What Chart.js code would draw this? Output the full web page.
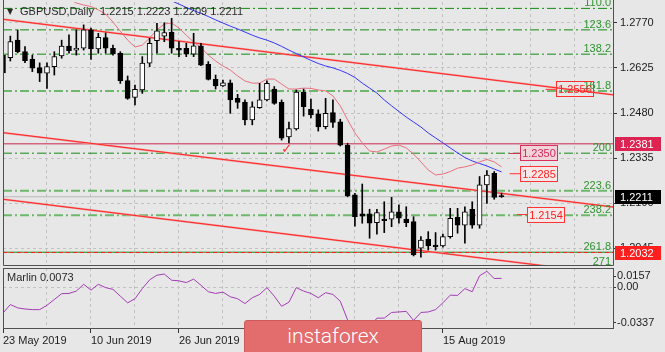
<!DOCTYPE html>
<html lang="en">
<head>
<meta charset="utf-8">
<title>GBPUSD Daily</title>
<script src="https://cdn.jsdelivr.net/npm/chart.js@4.4.1/dist/chart.umd.min.js"></script>
<style>
    html, body { margin: 0; padding: 0; background: #e7e7e7; }
    #wrap { position: relative; width: 665px; height: 352px; overflow: hidden; background: #e7e7e7; }
    #price-chart { position: absolute; left: 0; top: 0; }
    #marlin-chart { position: absolute; left: 0; top: 266px; }
    #logo { position: absolute; left: 244px; top: 320px; width: 178px; height: 40px; box-sizing: border-box;
            background: #e36c6c; border: 1px solid #cd5a5a; border-radius: 3px; color: #fff;
            font: 300 21px Roboto, "Open Sans", sans-serif; text-align: center; line-height: 30px; }
</style>
</head>
<body>
<div id="wrap">
    <canvas id="price-chart" width="665" height="268"></canvas>
    <canvas id="marlin-chart" width="665" height="86"></canvas>
    <div id="logo">instaforex</div>
</div>
<script>
// Daily candles, 23 May 2019 .. 27 Aug 2019
var barOpen = [
    1.2666, 1.2658, 1.2714, 1.2677, 1.2652, 1.2626, 1.2608, 1.2629, 1.2663, 1.2695,
    1.2682, 1.2688, 1.2747, 1.2686, 1.2722, 1.2688, 1.2672, 1.2584, 1.2530, 1.2554,
    1.2640, 1.2712, 1.2727, 1.2739, 1.2688, 1.2688, 1.2669, 1.2696, 1.2636, 1.2588,
    1.2567, 1.2577, 1.2527, 1.2514, 1.2458, 1.2497, 1.2522, 1.2557, 1.2514, 1.2403,
    1.2429, 1.2547, 1.2492, 1.2477, 1.2436, 1.2481, 1.2452, 1.2377, 1.2217, 1.2156,
    1.2156, 1.2128, 1.2139, 1.2139, 1.2163, 1.2139, 1.2131, 1.2046, 1.2074, 1.2056,
    1.2053, 1.2083, 1.2145, 1.2120, 1.2171, 1.2120, 1.2249, 1.2286, 1.2215
];
var barHigh = [
    1.2682, 1.2727, 1.2747, 1.2693, 1.2666, 1.2641, 1.2641, 1.2677, 1.2714, 1.2731,
    1.2747, 1.2763, 1.2753, 1.2736, 1.2737, 1.2698, 1.2677, 1.2599, 1.2570, 1.2661,
    1.2720, 1.2768, 1.2770, 1.2784, 1.2709, 1.2704, 1.2736, 1.2704, 1.2645, 1.2602,
    1.2586, 1.2586, 1.2540, 1.2522, 1.2516, 1.2575, 1.2583, 1.2565, 1.2522, 1.2451,
    1.2554, 1.2557, 1.2525, 1.2490, 1.2527, 1.2522, 1.2460, 1.2383, 1.2222, 1.2252,
    1.2171, 1.2171, 1.2195, 1.2209, 1.2185, 1.2179, 1.2147, 1.2083, 1.2099, 1.2096,
    1.2091, 1.2174, 1.2174, 1.2179, 1.2195, 1.2276, 1.2295, 1.2292, 1.2223
];
var barLow = [
    1.2592, 1.2647, 1.2673, 1.2642, 1.2613, 1.2581, 1.2559, 1.2602, 1.2656, 1.2672,
    1.2666, 1.2682, 1.2652, 1.2672, 1.2672, 1.2666, 1.2575, 1.2524, 1.2506, 1.2543,
    1.2629, 1.2672, 1.2709, 1.2672, 1.2661, 1.2661, 1.2661, 1.2632, 1.2586, 1.2557,
    1.2565, 1.2479, 1.2495, 1.2442, 1.2442, 1.2495, 1.2519, 1.2508, 1.2393, 1.2384,
    1.2425, 1.2470, 1.2464, 1.2422, 1.2429, 1.2434, 1.2374, 1.2211, 1.2117, 1.2126,
    1.2078, 1.2091, 1.2096, 1.2115, 1.2126, 1.2115, 1.2021, 1.2017, 1.2040, 1.2040,
    1.2049, 1.2078, 1.2094, 1.2062, 1.2110, 1.2110, 1.2190, 1.2203, 1.2209
];
var barClose = [
    1.2609, 1.2709, 1.2677, 1.2648, 1.2624, 1.2608, 1.2629, 1.2661, 1.2695, 1.2680,
    1.2688, 1.2747, 1.2686, 1.2723, 1.2688, 1.2670, 1.2584, 1.2527, 1.2556, 1.2640,
    1.2704, 1.2744, 1.2738, 1.2688, 1.2682, 1.2669, 1.2696, 1.2634, 1.2588, 1.2567,
    1.2577, 1.2522, 1.2514, 1.2458, 1.2500, 1.2522, 1.2575, 1.2511, 1.2399, 1.2430,
    1.2547, 1.2500, 1.2474, 1.2435, 1.2479, 1.2450, 1.2377, 1.2214, 1.2147, 1.2149,
    1.2126, 1.2160, 1.2134, 1.2163, 1.2142, 1.2128, 1.2024, 1.2072, 1.2053, 1.2051,
    1.2083, 1.2142, 1.2120, 1.2163, 1.2120, 1.2249, 1.2281, 1.2209, 1.2211
];

// fast (pink) and slow (blue) moving averages, null where off the chart
var pinkMa = [
    null, null, null, null, null, null, null, null, null, 1.2848,
    1.2833, 1.2827, 1.2822, 1.2811, 1.2798, 1.2772, 1.2743, 1.2714, 1.2692, 1.2698,
    1.2721, 1.2747, 1.2766, 1.2769, 1.2753, 1.2730, 1.2708, 1.2690, 1.2666, 1.2647,
    1.2631, 1.2618, 1.2599, 1.2583, 1.2576, 1.2576, 1.2589, 1.2589, 1.2573, 1.2557,
    1.2557, 1.2560, 1.2559, 1.2554, 1.2551, 1.2535, 1.2503, 1.2458, 1.2416, 1.2384,
    1.2358, 1.2355, 1.2364, 1.2374, 1.2377, 1.2368, 1.2348, 1.2323, 1.2297, 1.2281,
    1.2284, 1.2292, 1.2303, 1.2307, 1.2313, 1.2323, 1.2331, 1.2323, 1.2307
];
var blueMa = [
    null, null, null, null, null, null, null, null, null, null,
    null, null, null, null, null, null, null, null, null, null,
    null, null, 1.2849, 1.2840, 1.2830, 1.2819, 1.2809, 1.2800, 1.2790, 1.2779,
    1.2769, 1.2759, 1.2750, 1.2740, 1.2730, 1.2721, 1.2714, 1.2705, 1.2694, 1.2682,
    1.2671, 1.2660, 1.2649, 1.2639, 1.2631, 1.2625, 1.2617, 1.2607, 1.2594, 1.2576,
    1.2560, 1.2544, 1.2522, 1.2503, 1.2485, 1.2467, 1.2451, 1.2435, 1.2416, 1.2400,
    1.2384, 1.2368, 1.2352, 1.2337, 1.2326, 1.2318, 1.2310, 1.2300, 1.2291
];

// Marlin oscillator (lower window)
var marlin = [
    -0.0208, -0.0139, -0.0166, -0.0175, -0.0180, -0.0180, -0.0145, -0.0098, -0.0051, -0.0049,
    -0.0030, 0.0025, -0.0022, 0.0025, -0.0002, -0.0016, -0.0071, -0.0125, -0.0092, -0.0010,
    0.0061, 0.0099, 0.0108, 0.0058, 0.0053, 0.0039, 0.0067, 0.0017, -0.0035, -0.0049,
    -0.0038, -0.0076, -0.0092, -0.0131, -0.0084, -0.0057, -0.0002, -0.0071, -0.0153, -0.0120,
    -0.0002, -0.0030, -0.0049, -0.0084, -0.0043, -0.0057, -0.0112, -0.0263, -0.0330, -0.0337,
    -0.0325, -0.0249, -0.0249, -0.0203, -0.0199, -0.0194, -0.0268, -0.0203, -0.0199, -0.0180,
    -0.0125, -0.0063, -0.0065, -0.0010, -0.0035, 0.0094, 0.0130, 0.0072, 0.0073
];

// axis ticks
var priceTicks = [1.2045, 1.2190, 1.2335, 1.2480, 1.2625, 1.2770];
var dateTicks = [0, 12, 24, 36, 48, 60];
var dateLabels = ['23 May 2019', '10 Jun 2019', '26 Jun 2019', '12 Jul 2019', '30 Jul 2019', '15 Aug 2019'];
var marlinTickValues = [0.0092, 0, -0.0286];
var marlinTickLabels = ['0.0157', '0.00', '-0.0337'];

// fibo expansion levels
var fibNames = ['110.0', '123.6', '138.2', '161.8', '200', '223.6', '238.2', '261.8', '271'];
var fibPrices = [1.2816, 1.2747, 1.2669, 1.2551, 1.2351, 1.2230, 1.2152, 1.2033, 1.1985];

// trend lines: price at bar 0 and at bar 84
var trendStart = [1.2781, 1.2417, 1.2203];
var trendEnd = [1.2536, 1.2176, 1.1960];

// horizontal levels and price tags
var levelPrices = [1.2381, 1.2211, 1.2032];
var tagPrices = [1.2556, 1.2350, 1.2285, 1.2154];
var checkPrice = 1.2361;
var headerText = 'GBPUSD,Daily  1.2215 1.2223 1.2209 1.2211';
var marlinText = 'Marlin 0.0073';
</script>
<script>
(function() {
    'use strict';

    var FONT = '"Liberation Sans", Arial, sans-serif';
    var GRID = '#c2c2c2';
    var FRAME = '#505050';
    var X_MAX = 83.2;      // bar slots visible across the window
    var LINE_END = 86;     // lines run off the right edge
    var PRICE_MIN = 1.19887;
    var PRICE_MAX = 1.28365;
    var gridBars = [0, 6, 12, 18, 24, 30, 36, 42, 48, 54, 60, 66, 72, 78];

    // styling / placement (not data)
    var fibLight = [false, false, false, true, false, true, true, false, false];
    var levelColors = ['#c8284e', '#b9b9b9', '#ff2020'];
    var levelDash = [[], [], [4, 3]];
    var axisTagColors = ['#dc2352', '#000000', '#ff1f1f'];
    var tagBoxBar = [75.4, 70.5, 70.5, 71.5];
    var tagStyles = [
        { line: '#ff3030', border: '#ff3030', fill: null, text: '#ff2020' },
        { line: '#d8305a', border: '#d8305a', fill: '#f2d3da', text: '#d02858' },
        { line: '#ff3535', border: '#ff3535', fill: '#f6e8e8', text: '#ff2020' },
        { line: '#ff3535', border: '#ff3535', fill: '#f6e8e8', text: '#ff2020' }
    ];
    var checkBar = 38.7;

    Chart.defaults.font.family = FONT;
    Chart.defaults.font.size = 11;
    Chart.defaults.color = '#1c1c1c';

    /**
     * Turn a value list into {x, y} points, one per bar
     */
    function series(values) {
        return values.map(function(v, i) {
            return { x: i, y: v };
        });
    }

    function flatLine(price, color, width, dash, order) {
        return {
            type: 'line',
            data: [{ x: 0, y: price }, { x: LINE_END, y: price }],
            borderColor: color,
            borderWidth: width,
            borderDash: dash,
            pointRadius: 0,
            order: order
        };
    }

    function buildPriceDatasets() {
        var sets = [];

        // Fibo levels
        fibPrices.forEach(function(p, i) {
            var solid = fibNames[i] === '261.8';
            sets.push(flatLine(p, fibLight[i] ? '#6db86d' : '#138a13', fibLight[i] ? 2 : 1,
                solid ? [] : [9, 3, 2, 3], 20));
        });

        // horizontal levels
        levelPrices.forEach(function(p, i) {
            sets.push(flatLine(p, levelColors[i], 1, levelDash[i], 15));
        });

        // trend lines: a pink band with a thin red core
        trendStart.forEach(function(p, i) {
            sets.push({
                type: 'line',
                data: [{ x: 0, y: p }, { x: 84, y: trendEnd[i] }],
                borderColor: '#f39a9a',
                borderWidth: 2,
                pointRadius: 0,
                order: 13
            });
            sets.push({
                type: 'line',
                data: [{ x: 0, y: p }, { x: 84, y: trendEnd[i] }],
                borderColor: '#ff2626',
                borderWidth: 1,
                pointRadius: 0,
                order: 12
            });
        });

        // moving averages
        sets.push({
            type: 'line', data: series(pinkMa), borderColor: '#e9707f', borderWidth: 1,
            pointRadius: 0, spanGaps: false, order: 10
        });
        sets.push({
            type: 'line', data: series(blueMa), borderColor: '#3535ff', borderWidth: 1,
            pointRadius: 0, spanGaps: false, order: 10
        });

        // candle wicks
        sets.push({
            type: 'bar',
            data: barHigh.map(function(h, i) { return { x: i, y: [barLow[i], h] }; }),
            backgroundColor: '#000000',
            grouped: false,
            barThickness: 1,
            maxBarThickness: 1,
            categoryPercentage: 1,
            barPercentage: 1,
            order: 2
        });

        // candle bodies
        sets.push({
            type: 'bar',
            data: barOpen.map(function(o, i) { return { x: i, y: [o, barClose[i]] }; }),
            backgroundColor: barOpen.map(function(o, i) { return barClose[i] > o ? '#ffffff' : '#000000'; }),
            borderColor: '#000000',
            borderWidth: 1,
            borderSkipped: false,
            grouped: false,
            barThickness: 5,
            maxBarThickness: 5,
            categoryPercentage: 1,
            barPercentage: 1,
            order: 1
        });

        // short leader lines of the price tags
        tagPrices.forEach(function(p, i) {
            sets.push({
                type: 'line',
                data: [{ x: tagBoxBar[i] - 1.4, y: p }, { x: tagBoxBar[i], y: p }],
                borderColor: tagStyles[i].line,
                borderWidth: 1,
                pointRadius: 0,
                order: 0
            });
        });

        return sets;
    }

    /**
     * Captions, tags, header and frame drawn over the price window
     */
    var priceOverlay = {
        id: 'priceOverlay',
        afterDatasetsDraw: function(chart) {
            var ctx = chart.ctx;
            var xs = chart.scales.x;
            var ys = chart.scales.y;
            var area = chart.chartArea;
            ctx.save();

            // fibo captions
            ctx.font = '11px ' + FONT;
            ctx.fillStyle = '#2f952f';
            ctx.textAlign = 'right';
            ctx.textBaseline = 'alphabetic';
            fibNames.forEach(function(name, i) {
                ctx.fillText(name, area.right - 2, ys.getPixelForValue(fibPrices[i]) - 2);
            });

            // price tags on the chart
            tagPrices.forEach(function(p, i) {
                var st = tagStyles[i];
                var left = Math.round(xs.getPixelForValue(tagBoxBar[i])) + 0.5;
                var mid = Math.round(ys.getPixelForValue(p));
                if (st.fill) {
                    ctx.fillStyle = st.fill;
                    ctx.fillRect(left, mid - 7.5, 37, 15);
                }
                ctx.strokeStyle = st.border;
                ctx.lineWidth = 1;
                ctx.strokeRect(left, mid - 7.5, 37, 15);
                ctx.fillStyle = st.text;
                ctx.textAlign = 'center';
                ctx.textBaseline = 'middle';
                ctx.fillText(p.toFixed(4), left + 18.5, mid + 0.5);
            });

            // check mark
            ctx.fillStyle = '#ff2a2a';
            ctx.font = '13px "DejaVu Sans"';
            ctx.textAlign = 'center';
            ctx.textBaseline = 'middle';
            ctx.fillText('\u2713', xs.getPixelForValue(checkBar), ys.getPixelForValue(checkPrice));

            // header
            ctx.fillStyle = '#2a2a2a';
            ctx.font = '8px "DejaVu Sans"';
            ctx.textAlign = 'left';
            ctx.fillText('\u25BC', area.left + 4, area.top + 10);
            ctx.font = '11px ' + FONT;
            ctx.fillText(headerText, area.left + 17, area.top + 10);

            ctx.restore();
        },
        afterDraw: function(chart) {
            var ctx = chart.ctx;
            var ys = chart.scales.y;
            var area = chart.chartArea;
            ctx.save();

            // window frame
            ctx.strokeStyle = FRAME;
            ctx.lineWidth = 1;
            ctx.beginPath();
            ctx.moveTo(area.left + 0.5, 0);
            ctx.lineTo(area.left + 0.5, area.bottom - 0.5);
            ctx.lineTo(area.right + 0.5, area.bottom - 0.5);
            ctx.lineTo(area.right + 0.5, 0);
            ctx.stroke();

            // price boxes on the axis
            ctx.font = '11px ' + FONT;
            ctx.textAlign = 'left';
            ctx.textBaseline = 'middle';
            levelPrices.forEach(function(p, i) {
                var mid = Math.round(ys.getPixelForValue(p));
                ctx.fillStyle = axisTagColors[i];
                ctx.fillRect(area.right + 2, mid - 7, 46, 14);
                ctx.fillStyle = '#ffffff';
                ctx.fillText(p.toFixed(4), area.right + 7, mid + 0.5);
            });
            ctx.restore();
        }
    };

    var marlinOverlay = {
        id: 'marlinOverlay',
        afterDraw: function(chart) {
            var ctx = chart.ctx;
            var area = chart.chartArea;
            ctx.save();
            ctx.strokeStyle = FRAME;
            ctx.lineWidth = 1;
            ctx.strokeRect(area.left + 0.5, area.top + 0.5, area.right - area.left, area.bottom - area.top - 1);
            ctx.fillStyle = '#2a2a2a';
            ctx.font = '11px ' + FONT;
            ctx.textAlign = 'left';
            ctx.textBaseline = 'middle';
            ctx.fillText(marlinText, area.left + 4, area.top + 9.5);
            ctx.restore();
        }
    };

    function noPad(scale) {
        scale.paddingTop = 0;
        scale.paddingBottom = 0;
        scale.paddingLeft = 0;
        scale.paddingRight = 0;
    }

    // Price window
    new Chart(document.getElementById('price-chart').getContext('2d'), {
        type: 'bar',
        data: { datasets: buildPriceDatasets() },
        options: {
            responsive: false,
            animation: false,
            devicePixelRatio: 1,
            events: [],
            layout: { padding: { left: 3, top: 2, right: 0, bottom: 2 } },
            plugins: { legend: { display: false }, tooltip: { enabled: false } },
            scales: {
                x: {
                    type: 'linear',
                    min: 0,
                    max: X_MAX,
                    offset: false,
                    grid: { color: GRID, offset: false, drawTicks: false },
                    border: { display: false, dash: [3, 3] },
                    ticks: { display: false },
                    afterBuildTicks: function(s) {
                        s.ticks = gridBars.map(function(v) { return { value: v }; });
                    },
                    afterFit: function(s) {
                        s.height = 0;
                        noPad(s);
                    }
                },
                y: {
                    type: 'linear',
                    position: 'right',
                    min: PRICE_MIN,
                    max: PRICE_MAX,
                    grid: { color: GRID, tickLength: 4, tickColor: '#333333' },
                    border: { display: false, dash: [3, 3] },
                    ticks: {
                        padding: 3,
                        color: '#1c1c1c',
                        callback: function(v) { return v.toFixed(4); }
                    },
                    afterBuildTicks: function(s) {
                        s.ticks = priceTicks.map(function(v) { return { value: v }; });
                    },
                    afterFit: function(s) {
                        s.width = 52;
                        noPad(s);
                    }
                }
            }
        },
        plugins: [priceOverlay]
    });

    // Marlin window
    new Chart(document.getElementById('marlin-chart').getContext('2d'), {
        type: 'line',
        data: {
            datasets: [{
                data: series(marlin),
                borderColor: '#a33cb5',
                borderWidth: 1,
                pointRadius: 0
            }]
        },
        options: {
            responsive: false,
            animation: false,
            devicePixelRatio: 1,
            events: [],
            layout: { padding: { left: 3, top: 2, right: 0, bottom: 0 } },
            plugins: { legend: { display: false }, tooltip: { enabled: false } },
            scales: {
                x: {
                    type: 'linear',
                    min: 0,
                    max: X_MAX,
                    grid: {
                        color: GRID,
                        tickLength: 4,
                        tickColor: function(c) {
                            return c.tick && dateTicks.indexOf(c.tick.value) >= 0 ? '#333333' : 'rgba(0,0,0,0)';
                        }
                    },
                    border: { display: false, dash: [3, 3] },
                    ticks: {
                        align: 'start',
                        autoSkip: false,
                        maxRotation: 0,
                        minRotation: 0,
                        padding: 1,
                        color: '#1c1c1c',
                        callback: function(v) {
                            var k = dateTicks.indexOf(v);
                            return k >= 0 ? dateLabels[k] : '';
                        }
                    },
                    afterBuildTicks: function(s) {
                        s.ticks = gridBars.map(function(v) { return { value: v }; });
                    },
                    afterFit: function(s) {
                        s.height = 23;
                        noPad(s);
                    }
                },
                y: {
                    type: 'linear',
                    position: 'right',
                    min: -0.0337,
                    max: 0.0157,
                    grid: {
                        tickLength: 3,
                        tickColor: '#333333',
                        color: function(c) {
                            return c.tick && c.tick.value === 0 ? GRID : 'rgba(0,0,0,0)';
                        }
                    },
                    border: { display: false, dash: [3, 3] },
                    ticks: {
                        padding: 1,
                        color: '#1c1c1c',
                        callback: function(v) {
                            var k = marlinTickValues.indexOf(v);
                            return k >= 0 ? marlinTickLabels[k] : '';
                        }
                    },
                    afterBuildTicks: function(s) {
                        s.ticks = marlinTickValues.map(function(v) { return { value: v }; });
                    },
                    afterFit: function(s) {
                        s.width = 52;
                        noPad(s);
                    }
                }
            }
        },
        plugins: [marlinOverlay]
    });
})();
</script>
</body>
</html>
